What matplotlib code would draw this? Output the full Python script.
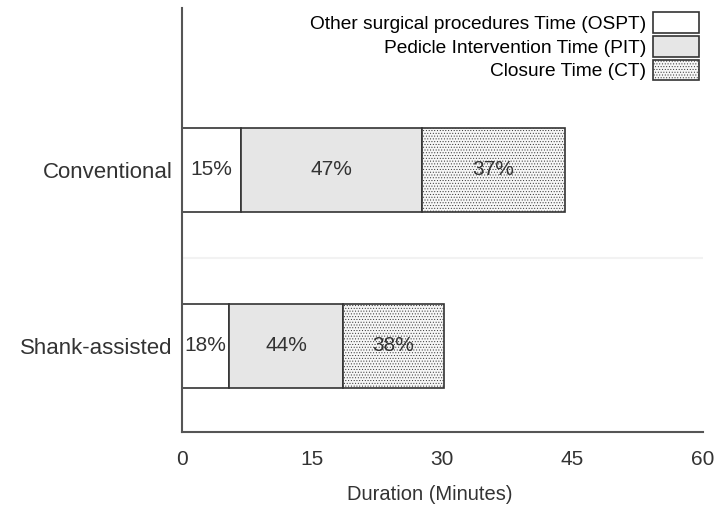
import matplotlib
matplotlib.use("Agg")
from matplotlib import pyplot as plt
import numpy as np

plt.rcParams['font.family'] = ['Liberation Sans', 'DejaVu Sans']

groups = ['Shank-assisted', 'Conventional']
ospt = [5.4, 6.8]
pit = [13.15, 20.85]
ct = [11.65, 16.45]
ospt_pct = ['18%', '15%']
pit_pct = ['44%', '47%']
ct_pct = ['38%', '37%']
legend_labels = ['Other surgical procedures Time (OSPT)',
                 'Pedicle Intervention Time (PIT)',
                 'Closure Time (CT)']

fig = plt.figure(figsize=(7.17, 5.05), dpi=100)
ax = fig.add_axes([0.254, 0.1446, 0.726, 0.8396])

y = np.arange(len(groups))
h = 0.477
plt.rcParams['hatch.color'] = '#c8c8c8'
plt.rcParams['hatch.linewidth'] = 0.4

ax.barh(y, ospt, height=h, color='white', edgecolor='#333333', linewidth=1.2,
        label=legend_labels[0])
ax.barh(y, pit, left=ospt, height=h, color='#e6e6e6', edgecolor='#333333',
        linewidth=1.2, label=legend_labels[1])
left3 = np.array(ospt) + np.array(pit)
ax.barh(y, ct, left=left3, height=h, color='#f6f6f6', edgecolor='#333333',
        linewidth=1.2, hatch='......', label=legend_labels[2])

for i in range(len(groups)):
    ax.text(ospt[i] / 2, y[i], ospt_pct[i], ha='center', va='center',
            fontsize=15, color='#333333')
    ax.text(ospt[i] + pit[i] / 2, y[i], pit_pct[i], ha='center', va='center',
            fontsize=15, color='#333333')
    ax.text(left3[i] + ct[i] / 2, y[i], ct_pct[i], ha='center', va='center',
            fontsize=15, color='#333333')

# faint separator between groups
ax.axhline(0.5, color='#f2f2f2', linewidth=1.5, zorder=0)

ax.set_xlim(0, 60)
ax.set_ylim(-0.489, 1.92)
ax.set_xticks([0, 15, 30, 45, 60])
ax.set_yticks(y)
ax.set_yticklabels(groups, fontsize=16)
ax.tick_params(axis='x', length=0, labelsize=15, colors='#333333', pad=13)
ax.tick_params(axis='y', length=0, colors='#333333', pad=7)
ax.set_xlabel('Duration (Minutes)', fontsize=14.5, color='#333333')
ax.xaxis.set_label_coords(0.475, -0.125)

for s in ['top', 'right']:
    ax.spines[s].set_visible(False)
for s in ['left', 'bottom']:
    ax.spines[s].set_color('#555555')
    ax.spines[s].set_linewidth(1.5)

ax.legend(loc='upper right', bbox_to_anchor=(1.018, 1.022), frameon=False,
          markerfirst=False, fontsize=13.8, handlelength=2.4, handleheight=1.3,
          labelspacing=0.15, handletextpad=0.35, borderpad=0.2)

fig.savefig('out.png', dpi=100)
